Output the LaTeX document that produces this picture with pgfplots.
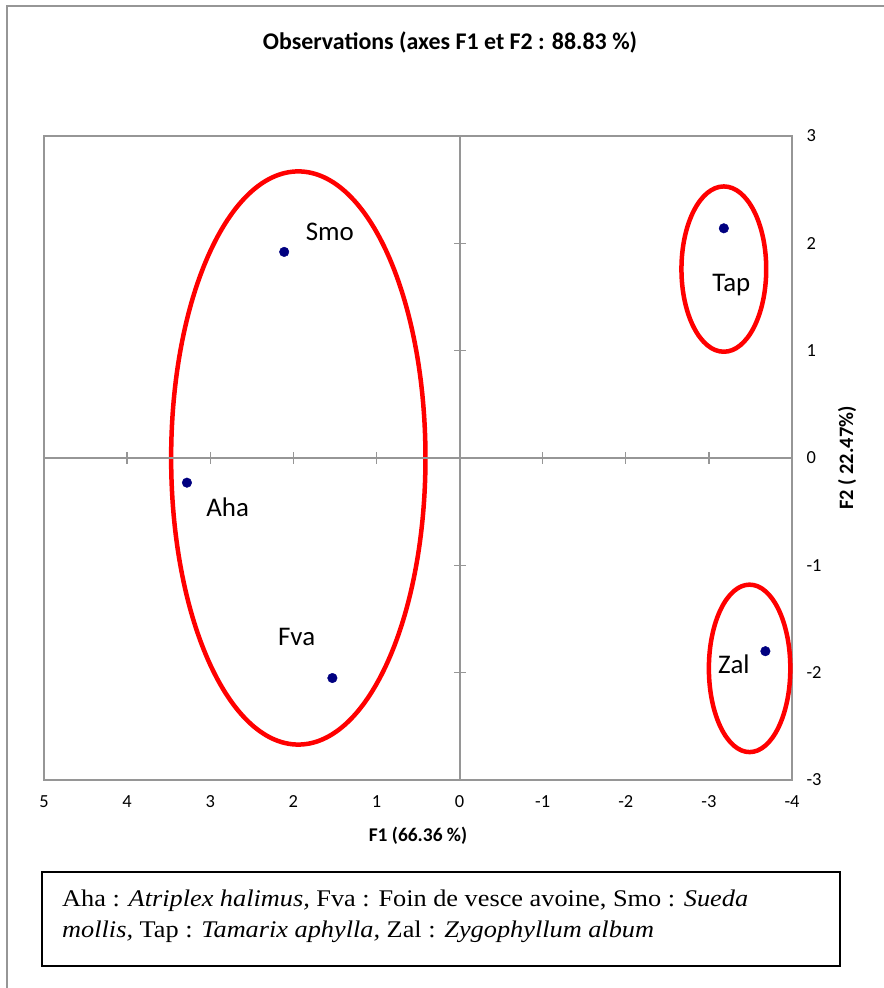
\documentclass[border=0pt]{standalone}
\usepackage{pgfplots}
\pgfplotsset{compat=1.18}
\usepackage{fontspec}
\setmainfont{Carlito}
\newfontfamily\timesf{Liberation Serif}

\definecolor{framegray}{RGB}{150,150,150}
\definecolor{ptnavy}{RGB}{0,0,128}
\definecolor{ellred}{RGB}{255,0,0}

\pgfplotstableread{
x      y
3.28  -0.23
1.53  -2.05
2.11   1.92
-3.18  2.14
-3.68 -1.80
}\obsdata

\begin{document}
\begin{tikzpicture}[x=1bp,y=1bp]
\path[use as bounding box] (0,0) rectangle (884,988);
% outer chart frame
\draw[framegray, line width=1.5bp] (7,0) -- (7,982) -- (884,982);

% plot area with tick labels
\begin{axis}[
  at={(44bp,208bp)}, anchor=south west,
  scale only axis, width=748bp, height=644bp,
  x dir=reverse,
  xmin=-4, xmax=5, ymin=-3, ymax=3,
  xtick={-4,...,5}, ytick={-3,...,3},
  major tick length=0pt,
  yticklabel pos=right,
  axis line style={framegray, line width=1.2bp},
  /pgf/number format/assume math mode=true,
  ticklabel style={font=\fontsize{18.5}{22}\selectfont},
  xticklabel shift=12bp,
  yticklabel shift=11bp,
  title={\textbf{Observations (axes F1 et F2 : 88.83 \%)}},
  title style={font=\fontsize{24}{28}\selectfont, at={(rel axis cs:0.5,1)}, anchor=center, yshift=88bp, xshift=32bp},
  xlabel={\textbf{F1 (66.36 \%)}},
  xlabel style={font=\fontsize{19.5}{23}\selectfont, at={(rel axis cs:0.5,0)}, anchor=center, yshift=-56bp},
  ylabel={\textbf{F2 ( 22.47\%)}},
  ylabel style={font=\fontsize{20.5}{24}\selectfont, at={(rel axis cs:1,0.5)}, anchor=center, yshift=-55bp},
  clip=false,
]
% group ellipses
\draw[ellred, line width=4.5bp] (axis cs:1.94,0) ellipse [x radius=1.53, y radius=2.67];
\draw[ellred, line width=4.5bp] (axis cs:-3.18,1.76) ellipse [x radius=0.51, y radius=0.77];
\draw[ellred, line width=4.5bp] (axis cs:-3.49,-1.96) ellipse [x radius=0.49, y radius=0.78];

\addplot[only marks, mark=*, mark size=4.8bp, ptnavy] table[x=x,y=y] {\obsdata};

\begin{scope}[font=\fontsize{27}{31}\selectfont]
\node at (axis cs:1.56,2.11) {Smo};
\node at (axis cs:-3.27,1.61) {Tap};
\node at (axis cs:2.79,-0.46) {Aha};
\node at (axis cs:1.96,-1.67) {Fva};
\node at (axis cs:-3.30,-1.92) {Zal};
\end{scope}
\end{axis}

% zero axes with their tick marks
\begin{axis}[
  at={(44bp,208bp)}, anchor=south west,
  scale only axis, width=748bp, height=644bp,
  x dir=reverse,
  xmin=-4, xmax=5, ymin=-3, ymax=3,
  axis lines=middle,
  axis line style={framegray, line width=2bp, -},
  xtick={-4,...,5}, ytick={-3,...,3},
  xticklabels={}, yticklabels={},
  tick style={framegray, line width=1.3bp},
  major tick length=12bp,
  tick align=center,
]
\end{axis}

% species key
\draw[black, line width=1.8bp] (42,22) rectangle (840,116);
\node[anchor=base west, inner sep=0, xscale=1.1, font=\timesf\fontsize{24}{28}\selectfont] at (62,81)
  {Aha : \textit{Atriplex halimus,} Fva : Foin de vesce avoine, Smo : \textit{Sueda}};
\node[anchor=base west, inner sep=0, xscale=1.1, font=\timesf\fontsize{24}{28}\selectfont] at (62,50)
  {\textit{mollis,} Tap : \textit{Tamarix aphylla,} Zal : \textit{Zygophyllum album}};
\end{tikzpicture}
\end{document}
